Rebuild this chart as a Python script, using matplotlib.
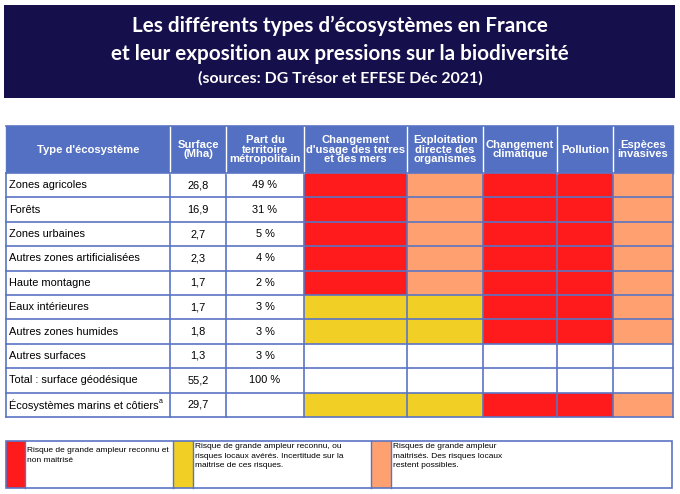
import matplotlib.pyplot as plt
from matplotlib.patches import Rectangle

# ---- data ----
ecosystems = ["Zones agricoles", "Forêts", "Zones urbaines", "Autres zones artificialisées",
              "Haute montagne", "Eaux intérieures", "Autres zones humides", "Autres surfaces",
              "Total : surface géodésique", "Écosystèmes marins et côtiers"]
surface = ["26,8", "16,9", "2,7", "2,3", "1,7", "1,7", "1,8", "1,3", "55,2", "29,7"]
part = ["49 %", "31 %", "5 %", "4 %", "2 %", "3 %", "3 %", "3 %", "100 %", ""]
headers = ["Type d'écosystème", "Surface\n(Mha)", "Part du\nterritoire\nmétropolitain",
           "Changement\nd'usage des terres\net des mers", "Exploitation\ndirecte des\norganismes",
           "Changement\nclimatique", "Pollution", "Espèces\ninvasives"]
# R = non maîtrisé, Y = incertain, O = maîtrisé, "" = pas d'évaluation
risk = [
    ["R", "O", "R", "R", "O"],
    ["R", "O", "R", "R", "O"],
    ["R", "O", "R", "R", "O"],
    ["R", "O", "R", "R", "O"],
    ["R", "O", "R", "R", "O"],
    ["Y", "Y", "R", "R", "O"],
    ["Y", "Y", "R", "R", "O"],
    ["", "", "", "", ""],
    ["", "", "", "", ""],
    ["Y", "Y", "R", "R", "O"],
]
legend_keys = ["R", "Y", "O"]
legend_texts = ["Risque de grande ampleur reconnu et\nnon maitrisé",
                "Risque de grande ampleur reconnu, ou\nrisques locaux avérés. Incertitude sur la\nmaitrise de ces risques.",
                "Risques de grande ampleur\nmaitrisés. Des risques locaux\nrestent possibles."]

# ---- style ----
colors = {"R": "#FF1B1B", "Y": "#F2CF24", "O": "#FFA070", "": "white"}
navy = "#150F4B"
head_blue = "#5470C2"
grid_blue = "#5A74C4"
tfont = ["Liberation Sans", "DejaVu Sans"]

fig = plt.figure(figsize=(6.8, 4.94), dpi=100)
ax = fig.add_axes([0, 0, 1, 1])
ax.set_xlim(0, 680)
ax.set_ylim(494, 0)
ax.axis("off")

# title box
ax.add_patch(Rectangle((4, 5), 671, 93, facecolor=navy, edgecolor="none"))
ax.text(340, 26, "Les différents types d\u2019écosystèmes en France", ha="center", va="center",
        color="white", fontsize=14.9, fontweight="bold", family="Lato")
ax.text(340, 54, "et leur exposition aux pressions sur la biodiversité", ha="center", va="center",
        color="white", fontsize=14.9, fontweight="bold", family="Lato")
ax.text(340, 78, "(sources: DG Trésor et EFESE Déc 2021)", ha="center", va="center",
        color="white", fontsize=11.4, fontweight="bold", family="Lato")

# table geometry
col_x = [6, 170, 226, 304, 407, 483, 557, 613, 673]
top, head_bot = 126, 173
row_h = (417 - head_bot) / len(ecosystems)
fs = 7.9

# header
ax.add_patch(Rectangle((col_x[0], top), col_x[-1] - col_x[0], head_bot - top,
                       facecolor=head_blue, edgecolor="none"))
for j, h in enumerate(headers):
    cx = (col_x[j] + col_x[j + 1]) / 2
    ax.text(cx, (top + head_bot) / 2, h, ha="center", va="center", color="white",
            fontsize=8.1, fontweight="bold", family=tfont, linespacing=0.95)

# body
for i, name in enumerate(ecosystems):
    y0 = head_bot + i * row_h
    yc = y0 + row_h / 2
    t = ax.text(col_x[0] + 3, yc, name, ha="left", va="center", fontsize=fs, family=tfont)
    if i == len(ecosystems) - 1:
        ax.annotate("a", xy=(1, 0.75), xycoords=t, fontsize=5, family=tfont, va="center")
    ax.text((col_x[1] + col_x[2]) / 2, yc, surface[i], ha="center", va="center",
            fontsize=fs, family=tfont)
    ax.text((col_x[2] + col_x[3]) / 2, yc, part[i], ha="center", va="center",
            fontsize=fs, family=tfont)
    for k, code in enumerate(risk[i]):
        ax.add_patch(Rectangle((col_x[3 + k], y0), col_x[4 + k] - col_x[3 + k], row_h,
                               facecolor=colors[code], edgecolor="none"))

# grid lines
bottom = head_bot + len(ecosystems) * row_h
for x in col_x:
    ax.plot([x, x], [head_bot, bottom], color=grid_blue, lw=1.2)
    inner = x not in (col_x[0], col_x[-1])
    ax.plot([x, x], [top, head_bot], color="white" if inner else grid_blue, lw=1.0)
for i in range(len(ecosystems) + 1):
    y = head_bot + i * row_h
    ax.plot([col_x[0], col_x[-1]], [y, y], color=grid_blue, lw=1.2)
ax.plot([col_x[0], col_x[-1]], [top, top], color=grid_blue, lw=1.2)

# legend
ly0, ly1 = 441, 488
lx = [6, 25, 173, 193, 371, 391, 672]
text_top = [447, 443, 443]
for k, key in enumerate(legend_keys):
    ax.add_patch(Rectangle((lx[2 * k], ly0), lx[2 * k + 1] - lx[2 * k], ly1 - ly0,
                           facecolor=colors[key], edgecolor="none"))
    ax.text(lx[2 * k + 1] + 2, text_top[k], legend_texts[k], ha="left", va="top",
            fontsize=6.0, family=tfont, linespacing=1.5)
ax.add_patch(Rectangle((lx[0], ly0), lx[-1] - lx[0], ly1 - ly0, facecolor="none",
                       edgecolor=grid_blue, lw=1.2))
for x in lx[1:-1]:
    ax.plot([x, x], [ly0, ly1], color=grid_blue, lw=1.0)

fig.savefig("out.png", dpi=100)
